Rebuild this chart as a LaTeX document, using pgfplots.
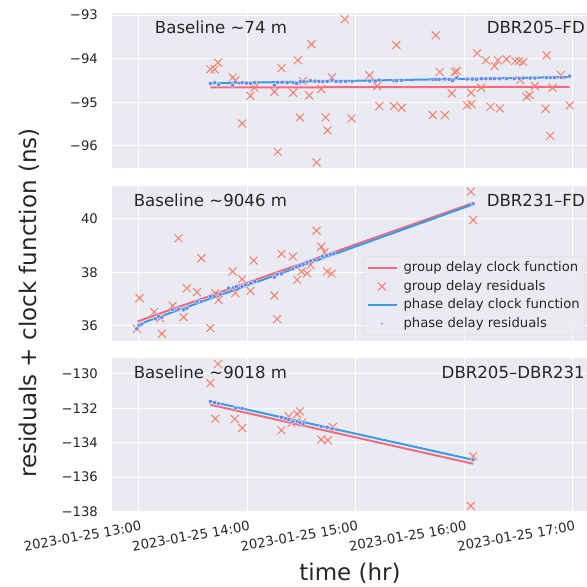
\documentclass[border=0pt]{standalone}
\usepackage{fontspec}
\setmainfont{DejaVu Sans}
\usepackage{pgfplots}
\pgfplotsset{compat=1.18}
\definecolor{bgc}{HTML}{EAEAF2}
\definecolor{txtc}{HTML}{262626}
\definecolor{grpc}{HTML}{F36B80}
\definecolor{resc}{HTML}{F4806C}
\definecolor{phc}{HTML}{3A9BE6}
\definecolor{dotc}{HTML}{6488EE}
\tikzset{annot/.style={font=\fontsize{16.6}{20}\selectfont, text=txtc, anchor=base east, inner sep=0pt}}
\pgfplotsset{
  panel/.style={
    scale only axis, width=475pt, xmin=12.752, xmax=17.134,
    axis background/.style={fill=bgc},
    axis line style={draw=none},
    major tick length=0pt,
    xmajorgrids, ymajorgrids,
    major grid style={white, line width=1pt},
    xtick={13,14,15,16,17},
    xticklabels={},
    ticklabel style={font=\fontsize{13.2}{16}\selectfont, text=txtc},
    yticklabel style={anchor=east, inner sep=0pt, xshift=-14pt},
  },
  grpline/.style={color=grpc, line width=2pt, no marks,
    legend image code/.code={\draw[##1] (0pt,0pt) -- (29pt,0pt);}},
  grpres/.style={only marks, mark=x, mark size=5.6pt, color=resc, line width=1pt,
    legend image code/.code={\draw[##1] plot coordinates {(14.5pt,0pt)};}},
  phsline/.style={color=phc, line width=2pt, no marks,
    legend image code/.code={\draw[##1] (0pt,0pt) -- (29pt,0pt);}},
  phsres/.style={only marks, mark=*, mark size=2.1pt, color=dotc,
    mark options={fill=dotc, draw=white, line width=0.3pt},
    legend image code/.code={\draw[##1, mark size=1.9pt] plot coordinates {(14.5pt,0pt)};}},
}
\begin{document}
\begin{tikzpicture}
% ---------------- Panel 1 ----------------
\begin{axis}[panel, at={(112pt,-13pt)}, anchor=north west, height=155pt,
  ymin=-96.51, ymax=-92.95, ytick={-96,-95,-94,-93}, yticklabels={−96,−95,−94,−93}]
\addplot[grpline] table {
13.659 -94.660
16.974 -94.645
};
\addplot[grpres] table {
14.900 -93.095
14.592 -93.670
15.738 -93.463
15.375 -93.685
13.659 -94.244
13.699 -94.244
13.730 -94.091
14.315 -94.221
14.466 -94.037
13.865 -94.428
13.890 -94.500
14.029 -94.850
14.066 -94.666
13.952 -95.486
14.250 -94.758
14.423 -94.781
14.571 -94.842
14.682 -94.697
14.780 -94.428
14.485 -95.348
14.722 -95.348
14.740 -95.647
14.962 -95.371
14.281 -96.137
14.639 -96.382
14.512 -94.513
15.128 -94.382
15.199 -94.628
15.218 -95.087
15.353 -95.087
15.424 -95.126
15.711 -95.294
15.822 -95.294
15.775 -94.306
15.886 -94.796
15.914 -94.306
15.933 -94.283
16.028 -95.072
16.068 -95.041
16.065 -94.781
16.120 -93.877
16.201 -94.037
16.157 -94.666
16.244 -95.103
16.330 -95.141
16.281 -94.168
16.311 -94.037
16.392 -94.015
16.472 -94.053
16.509 -94.053
16.546 -94.076
16.576 -94.873
16.604 -94.834
16.653 -94.628
16.761 -93.923
16.752 -95.149
16.795 -95.769
16.817 -94.666
16.894 -94.375
16.974 -95.072
16.518 -94.490
};
\addplot[phsline] table {
13.659 -94.565
16.974 -94.420
};
\addplot[phsres] table {
13.659 -94.566
13.699 -94.551
13.736 -94.597
13.865 -94.612
13.890 -94.536
13.952 -94.551
13.992 -94.559
14.029 -94.566
14.066 -94.551
14.250 -94.612
14.281 -94.543
14.321 -94.543
14.368 -94.551
14.423 -94.551
14.454 -94.566
14.491 -94.528
14.522 -94.528
14.583 -94.505
14.623 -94.513
14.660 -94.520
14.697 -94.528
14.737 -94.520
14.783 -94.490
14.820 -94.520
14.860 -94.520
14.907 -94.520
14.968 -94.520
15.128 -94.513
15.184 -94.513
15.215 -94.490
15.353 -94.505
15.375 -94.505
15.424 -94.497
15.711 -94.474
15.738 -94.474
15.769 -94.474
15.822 -94.467
15.862 -94.474
15.893 -94.505
15.933 -94.436
16.028 -94.467
16.077 -94.467
16.114 -94.474
16.161 -94.459
16.201 -94.459
16.244 -94.459
16.281 -94.459
16.330 -94.459
16.392 -94.459
16.462 -94.459
16.509 -94.451
16.546 -94.444
16.610 -94.444
16.653 -94.444
16.761 -94.436
16.795 -94.436
16.832 -94.436
16.894 -94.428
16.974 -94.398
};
\node[annot] at (rel axis cs:0.369,0.869) {Baseline \textasciitilde74 m};
\node[annot] at (rel axis cs:0.9958,0.869) {DBR205–FD};
\end{axis}
% ---------------- Panel 2 ----------------
\begin{axis}[panel, at={(112pt,-186pt)}, anchor=north west, height=155pt,
  ymin=35.43, ymax=41.22, ytick={36,38,40}, yticklabels={36,38,40},
  legend style={at={(0.9958,0.0387)}, anchor=south east, draw=black!17, fill=bgc,
    fill opacity=0.8, text opacity=1, draw opacity=1, rounded corners=3pt,
    font=\fontsize{13.2}{15.8}\selectfont, text=txtc, inner xsep=3pt, inner ysep=2pt,
    row sep=0pt, nodes={inner ysep=2.5pt, text height=10.3pt, text depth=3.2pt},
    /tikz/every odd column/.append style={column sep=4pt}},
  legend cell align=left]
\addplot[grpline] table {
12.987 36.161
16.083 40.584
};
\addlegendentry{group delay clock function}
\addplot[grpres] table {
16.062 41.006
16.083 39.950
14.639 39.553
14.682 38.957
14.713 38.745
13.366 39.267
13.576 38.522
14.059 38.435
14.315 38.683
14.420 38.584
13.865 38.025
13.952 37.739
14.029 37.304
13.890 37.217
13.443 37.404
13.536 37.255
13.705 37.217
13.736 36.969
14.250 37.130
14.275 36.248
14.460 37.714
14.500 38.025
14.552 37.963
14.583 38.273
14.737 38.025
14.777 37.950
13.006 37.031
12.981 35.888
13.141 36.509
13.212 35.702
13.311 36.745
13.412 36.323
13.659 35.913
13.197 36.286
};
\addlegendentry{group delay residuals}
\addplot[phsline] table {
12.987 36.037
16.083 40.534
};
\addlegendentry{phase delay clock function}
\addplot[phsres] table {
12.981 35.888
13.003 36.012
13.027 36.062
13.151 36.261
13.181 36.348
13.212 36.311
13.311 36.596
13.366 36.621
13.412 36.596
13.443 36.658
13.536 36.907
13.576 36.907
13.659 37.093
13.696 37.093
13.751 37.180
13.828 37.404
13.875 37.429
13.899 37.466
13.952 37.466
13.982 37.528
14.029 37.590
14.069 37.652
14.250 37.814
14.275 37.925
14.315 37.938
14.420 38.124
14.454 38.199
14.482 38.248
14.515 38.298
14.552 38.373
14.583 38.422
14.620 38.460
14.691 38.584
14.731 38.621
14.768 38.671
14.799 38.696
16.083 40.559
};
\addlegendentry{phase delay residuals}
\node[annot] at (rel axis cs:0.369,0.869) {Baseline \textasciitilde9046 m};
\node[annot] at (rel axis cs:0.9958,0.869) {DBR231–FD};
\end{axis}
% ---------------- Panel 3 ----------------
\begin{axis}[panel, at={(112pt,-358.3pt)}, anchor=north west, height=153.4pt,
  ymin=-138.02, ymax=-129.09, ytick={-138,-136,-134,-132,-130},
  yticklabels={−138,−136,−134,−132,−130},
  xticklabels={2023-01-25 13:00,2023-01-25 14:00,2023-01-25 15:00,2023-01-25 16:00,2023-01-25 17:00},
  xticklabel style={rotate=10, anchor=north east, inner sep=0pt, yshift=-9pt}]
\addplot[grpline] table {
13.659 -131.794
16.083 -135.229
};
\addplot[grpres] table {
13.730 -129.421
13.659 -130.540
13.705 -132.605
13.884 -132.624
13.952 -133.145
14.315 -133.280
14.383 -132.470
14.460 -132.335
14.485 -132.180
14.408 -132.856
14.506 -132.817
14.682 -133.820
14.743 -133.859
14.790 -133.087
16.083 -134.785
16.062 -137.679
};
\addplot[phsline] table {
13.659 -131.600
16.083 -134.997
};
\addplot[phsres] table {
13.659 -131.601
13.699 -131.659
13.736 -131.736
13.890 -131.987
13.952 -132.007
14.315 -132.527
14.352 -132.605
14.383 -132.663
14.420 -132.778
14.460 -132.759
14.485 -132.817
14.515 -132.913
14.682 -133.068
14.737 -133.106
14.783 -133.183
16.083 -134.997
};
\node[annot] at (rel axis cs:0.369,0.870) {Baseline \textasciitilde9018 m};
\node[annot] at (rel axis cs:0.9958,0.870) {DBR205–DBR231};
\end{axis}
\node[rotate=90, font=\fontsize{23}{27}\selectfont, text=txtc] at (29pt,-303pt) {residuals + clock function (ns)};
\node[anchor=base, font=\fontsize{23}{27}\selectfont, text=txtc] at (350pt,-580pt) {time (hr)};
\pgfresetboundingbox
\path[use as bounding box] (0pt,0pt) rectangle (587pt,-587pt);
\end{tikzpicture}
\end{document}
